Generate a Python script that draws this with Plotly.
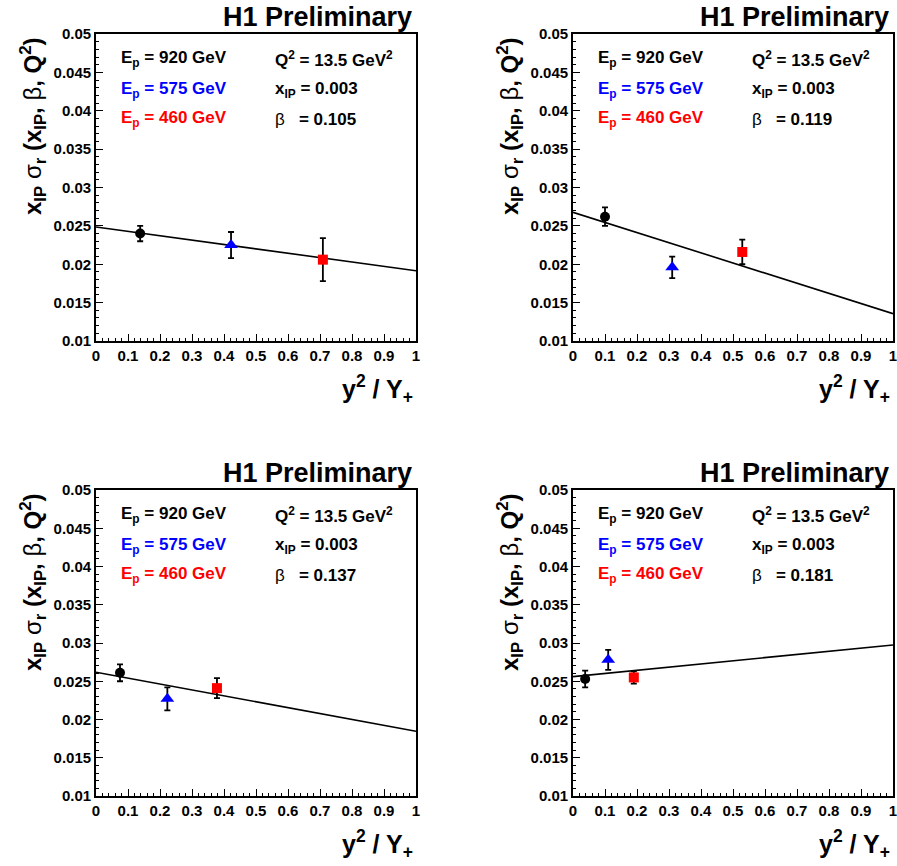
import plotly.graph_objects as go
from plotly.subplots import make_subplots

# ---------------- data ----------------
beta_labels = ["0.105", "0.119", "0.137", "0.181"]
x920 = [0.138, 0.100, 0.075, 0.038]
y920 = [0.0240, 0.0262, 0.0261, 0.0253]
e920 = [0.0010, 0.0012, 0.0011, 0.0011]
x575 = [0.422, 0.310, 0.223, 0.110]
y575 = [0.0225, 0.0196, 0.0227, 0.0278]
e575 = [0.0017, 0.0014, 0.0015, 0.0013]
x460 = [0.709, 0.529, 0.378, 0.190]
y460 = [0.0206, 0.0216, 0.0241, 0.0255]
e460 = [0.0028, 0.0016, 0.0013, 0.0008]
fit_intercept = [0.02485, 0.02677, 0.02617, 0.02561]
fit_slope = [-0.00569, -0.01321, -0.00771, 0.00413]
fit_x = [0.0, 1.0]

x_tickvals = [0, 0.1, 0.2, 0.3, 0.4, 0.5, 0.6, 0.7, 0.8, 0.9, 1.0]
x_ticktext = ["0", "0.1", "0.2", "0.3", "0.4", "0.5", "0.6", "0.7", "0.8", "0.9", "1"]
y_tickvals = [0.01, 0.015, 0.02, 0.025, 0.03, 0.035, 0.04, 0.045, 0.05]
y_ticktext = ["0.01", "0.015", "0.02", "0.025", "0.03", "0.035", "0.04", "0.045", "0.05"]

W, H = 897, 866
FONT = "Liberation Sans, Arial, sans-serif"

def px(x):
    return x / W

def py(y):
    return 1 - y / H

# panel pixel boxes: (left, right, top, bottom)
boxes = [(96, 416, 34, 341), (573, 893, 34, 341),
         (96, 416, 490, 796), (573, 893, 490, 796)]

fig = make_subplots(rows=2, cols=2)

annotations = []
for i in range(4):
    r, c = i // 2 + 1, i % 2 + 1
    # fit line
    fy = [fit_intercept[i] + fit_slope[i] * xv for xv in fit_x]
    fig.add_trace(go.Scatter(x=fit_x, y=fy, mode="lines",
                             line=dict(color="black", width=1.6),
                             showlegend=False, hoverinfo="skip"), row=r, col=c)
    for xs, ys, es, col, sym in [(x920, y920, e920, "black", "circle"),
                                 (x575, y575, e575, "blue", "triangle-up"),
                                 (x460, y460, e460, "red", "square")]:
        fig.add_trace(go.Scatter(
            x=[xs[i]], y=[ys[i]], mode="markers",
            marker=dict(color=col, symbol=sym, size=10 if sym != "triangle-up" else 12,
                        line=dict(width=0)),
            error_y=dict(type="data", array=[es[i]], visible=True,
                         color="black", thickness=1.8, width=3),
            showlegend=False), row=r, col=c)

    L, R, T, B = boxes[i]
    ax = dict(range=[0, 1], tickvals=x_tickvals,
              ticktext=["<b>%s</b>" % t for t in x_ticktext],
              ticks="inside", ticklen=7, tickwidth=1.2, tickcolor="black",
              showline=True, linecolor="black", linewidth=1.8, mirror=True,
              showgrid=False, zeroline=False, automargin=False,
              ticklabeloverflow="allow",
              tickfont=dict(family=FONT, size=15, color="black"),
              minor=dict(ticks="inside", dtick=0.02, ticklen=3.5, tickwidth=1,
                         tickcolor="black", showgrid=False),
              domain=[px(L), px(R)])
    ay = dict(range=[0.01, 0.05], tickvals=y_tickvals,
              ticktext=["<b>%s</b>" % t for t in y_ticktext],
              ticks="inside", ticklen=7, tickwidth=1.2, tickcolor="black",
              showline=True, linecolor="black", linewidth=1.8, mirror=True,
              showgrid=False, zeroline=False, automargin=False,
              ticklabeloverflow="allow",
              tickfont=dict(family=FONT, size=15, color="black"),
              minor=dict(ticks="inside", dtick=0.001, ticklen=3.5, tickwidth=1,
                         tickcolor="black", showgrid=False),
              domain=[py(B), py(T)])
    fig.update_xaxes(ax, row=r, col=c)
    fig.update_yaxes(ay, row=r, col=c)

    # texts
    def add(x, y, text, size=17, color="black", xanchor="left", angle=0):
        annotations.append(dict(x=px(x), y=py(y), xref="paper", yref="paper",
                                text=text, showarrow=False, xanchor=xanchor,
                                yanchor="middle", textangle=angle,
                                font=dict(family=FONT, size=size, color=color)))

    add(R - 2, T - 17, "<b>H1 Preliminary</b>", size=27, xanchor="right")
    lx, rx = L + 23, L + 177
    add(lx, T + 25, "<b>E<sub>p</sub> = 920 GeV</b>", color="black")
    add(lx, T + 56, "<b>E<sub>p</sub> = 575 GeV</b>", color="blue")
    add(lx, T + 85, "<b>E<sub>p</sub> = 460 GeV</b>", color="red")
    add(rx, T + 25, "<b>Q<sup>2</sup> = 13.5 GeV<sup>2</sup></b>")
    add(rx, T + 56, "<b>x<sub>IP</sub> = 0.003</b>")
    add(rx, T + 85, "β   <b>= " + beta_labels[i] + "</b>")
    add(L - 63, T + 92,
        "<b>x<sub>IP</sub></b> σ<sub><b>r</b></sub><b> (x<sub>IP</sub>, </b>β<b>, Q<sup>2</sup>)</b>",
        size=24, xanchor="center", angle=-90)
    add(R - 1, B + 48, "<b>y<sup>2</sup> / Y<sub>+</sub></b>", size=25, xanchor="right")

fig.update_layout(width=W, height=H, margin=dict(l=0, r=0, t=0, b=0, autoexpand=False),
                  paper_bgcolor="white", plot_bgcolor="white",
                  font=dict(family=FONT, color="black"),
                  annotations=annotations, showlegend=False)

fig.write_html("out.html", config={"displayModeBar": False},
               post_script="document.body.style.margin='0';document.body.style.overflow='hidden';")
